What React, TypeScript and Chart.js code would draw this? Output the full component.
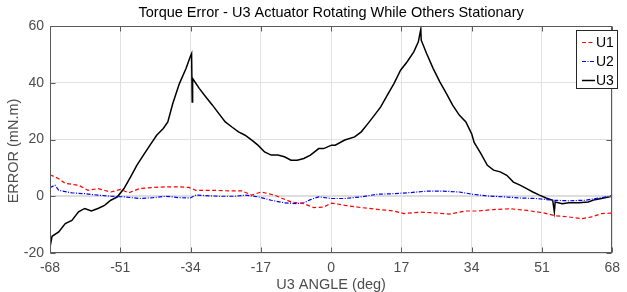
import React, { useEffect, useRef } from "react";
import { Chart, registerables } from "chart.js";

Chart.register(...registerables);

const TITLE = "Torque Error - U3 Actuator Rotating While Others Stationary";
const X_LABEL = "U3 ANGLE (deg)";
const Y_LABEL = "ERROR (mN.m)";
const X_TICKS = [-68, -51, -34, -17, 0, 17, 34, 51, 68];
const Y_TICKS = [-20, 0, 20, 40, 60];
const SERIES_NAMES = ["U1", "U2", "U3"];

const u1Angle = [-68, -65.9, -64.3, -61.1, -58.8, -56.4, -53.3, -50.9, -49.0, -46.3, -43.1, -40.0, -36.7, -34.4, -32.7, -28.7, -24.8, -21.6, -19.2, -16.9, -13.7, -9.7, -6.6, -4.2, -1.8, 0.1, 3.3, 7.3, 11.2, 15.2, 17.6, 21.5, 25.5, 28.6, 32.6, 35.4, 39.3, 43.3, 47.3, 51.2, 54.4, 57.5, 60.7, 63.0, 65.4, 68];
const u1Error = [7.6, 6.2, 4.5, 3.9, 2.1, 2.7, 1.5, 2.4, 1.2, 2.7, 3.1, 3.3, 3.3, 3.1, 2.1, 2.1, 1.9, 1.9, 0.4, 1.5, 0.4, -2.0, -2.6, -4.0, -3.8, -2.4, -3.2, -4.0, -4.6, -5.2, -6.1, -5.6, -5.9, -6.3, -5.2, -5.2, -4.7, -4.4, -5.0, -5.8, -6.9, -7.3, -7.9, -7.3, -6.1, -5.9];

const u2Angle = [-68, -66.8, -65.9, -62.7, -59.6, -56.4, -53.3, -50.1, -46.3, -43.1, -40.0, -36.7, -34.1, -32.7, -27.2, -23.2, -20.8, -17.7, -14.5, -11.3, -8.2, -6.6, -5.0, -3.0, 0.0, 3.3, 7.3, 11.2, 15.2, 19.2, 23.1, 27.1, 31.0, 34.2, 37.8, 41.7, 45.7, 49.6, 53.6, 57.5, 61.5, 65.4, 68];
const u2Error = [3.0, 3.9, 2.1, 1.2, 0.9, 0.4, 0, -0.2, -0.8, -0.5, 0, -0.5, -0.6, 0.4, 0, 0, 0.4, -0.2, -1.4, -2.3, -2.6, -2.3, -1.2, -0.2, -0.8, -0.8, -0.2, 0.7, 0.9, 1.3, 1.8, 1.8, 1.5, 0.7, 0.1, -0.2, -0.6, -0.8, -1.4, -1.6, -1.4, -0.5, 0.2];

const u3Angle = [-68, -67.5, -65.9, -64.3, -62.7, -61.1, -59.6, -58.0, -56.4, -54.8, -53.3, -51.7, -50.1, -48.5, -47.0, -45.4, -43.8, -42.2, -40.6, -39.5, -38.3, -36.7, -35.1, -34.1, -33.75, -33.6, -33.5, -31.9, -30.3, -28.7, -27.2, -25.6, -24.0, -22.4, -20.8, -19.2, -17.7, -16.1, -14.5, -12.9, -11.3, -9.7, -8.2, -6.6, -5.0, -3.0, -1.8, 0.1, 1.0, 3.3, 5.7, 7.3, 8.9, 10.5, 12.0, 13.6, 15.2, 16.8, 18.4, 20.0, 21.1, 21.7, 21.8, 23.1, 24.7, 26.3, 27.9, 29.4, 31.0, 32.6, 34.0, 34.6, 36.2, 37.8, 39.3, 40.9, 42.5, 44.1, 45.7, 47.3, 48.8, 50.4, 52.0, 53.6, 54.0, 54.2, 55.9, 57.5, 59.9, 62.2, 63.8, 65.4, 67.4, 68];
const u3Error = [-17.9, -14.1, -12.6, -9.6, -8.5, -5.5, -4.3, -5.2, -4.3, -3.2, -1.4, -0.2, 2.7, 6.8, 10.9, 14.5, 18.0, 21.5, 23.9, 26.2, 32.7, 39.7, 45.0, 49.1, 50.3, 33.2, 41.5, 38.0, 35.0, 32.1, 29.2, 26.2, 24.4, 22.7, 21.5, 19.8, 18.0, 15.6, 14.5, 14.5, 13.9, 12.7, 12.7, 13.3, 14.5, 16.8, 16.8, 18.0, 18.0, 19.8, 20.9, 22.7, 25.6, 28.6, 31.5, 35.6, 39.7, 44.4, 47.4, 50.9, 54.4, 58.9, 55.0, 50.3, 45.0, 40.3, 36.2, 32.1, 28.6, 26.2, 22.0, 19.0, 15.1, 10.9, 9.2, 8.6, 7.4, 5.0, 3.9, 2.7, 1.5, 0.4, -0.6, -1.4, -5.5, -2.0, -2.6, -2.3, -2.3, -2.0, -1.2, -0.8, -0.2, 0.2];

const FONT = '"Liberation Sans", Arial, sans-serif';
const GRAY = "#4d4d4d";

const toPoints = (xs: number[], ys: number[]) => xs.map((x, i) => ({ x, y: ys[i] }));

const decor = {
  id: "decor",
  afterDraw(chart: any) {
    const { ctx, chartArea: a, scales } = chart;
    const xs = scales.x;
    const ys = scales.y;
    ctx.save();
    // frame
    ctx.strokeStyle = "#5a5a5a";
    ctx.lineWidth = 1;
    const l = Math.round(a.left) + 0.5;
    const t = Math.round(a.top) + 0.5;
    const r = Math.round(a.right) - 0.5;
    const b = Math.round(a.bottom) - 0.5;
    ctx.strokeRect(l, t, r - l, b - t);
    // inward ticks
    const L = 5;
    ctx.beginPath();
    X_TICKS.forEach((v) => {
      const p = Math.round(xs.getPixelForValue(v)) + 0.5;
      ctx.moveTo(p, b);
      ctx.lineTo(p, b - L);
      ctx.moveTo(p, t);
      ctx.lineTo(p, t + L);
    });
    Y_TICKS.forEach((v) => {
      const p = Math.round(ys.getPixelForValue(v)) + 0.5;
      ctx.moveTo(l, p);
      ctx.lineTo(l + L, p);
      ctx.moveTo(r, p);
      ctx.lineTo(r - L, p);
    });
    ctx.stroke();
    // title
    ctx.fillStyle = "#000";
    ctx.font = `14.5px ${FONT}`;
    ctx.textAlign = "center";
    ctx.textBaseline = "middle";
    ctx.fillText(TITLE, (a.left + a.right) / 2, 13);
    // y axis title
    ctx.save();
    ctx.translate(14, 151);
    ctx.rotate(-Math.PI / 2);
    ctx.fillStyle = GRAY;
    ctx.font = `14.5px ${FONT}`;
    ctx.textAlign = "center";
    ctx.textBaseline = "middle";
    ctx.fillText(Y_LABEL, 0, 0);
    ctx.restore();
    // legend
    const bx = 576.5, by = 30.5, bw = 41, bh = 58;
    ctx.fillStyle = "#fff";
    ctx.fillRect(bx, by, bw, bh);
    ctx.strokeStyle = "#262626";
    ctx.lineWidth = 1;
    ctx.strokeRect(bx, by, bw, bh);
    const styles = [
      { color: "#ff0000", dash: [4, 2.5] },
      { color: "#0000ff", dash: [4, 1.5, 1, 1.5] },
      { color: "#000000", dash: [] as number[] },
    ];
    SERIES_NAMES.forEach((name, i) => {
      const cy = 42.5 + i * 19;
      ctx.strokeStyle = styles[i].color;
      ctx.setLineDash(styles[i].dash);
      ctx.lineWidth = i === 2 ? 1.5 : 1.2;
      ctx.beginPath();
      ctx.moveTo(582, cy);
      ctx.lineTo(595, cy);
      ctx.stroke();
      ctx.setLineDash([]);
      ctx.fillStyle = "#000";
      ctx.font = `14px ${FONT}`;
      ctx.textAlign = "left";
      ctx.textBaseline = "middle";
      ctx.fillText(name, 596, cy + 1);
    });
    ctx.restore();
  },
};

export default function App() {
  const ref = useRef<HTMLCanvasElement | null>(null);
  useEffect(() => {
    document.body.style.margin = "0";
    const canvas = ref.current;
    if (!canvas) return;
    const chart = new Chart(canvas, {
      type: "line",
      data: {
        datasets: [
          {
            label: SERIES_NAMES[0],
            data: toPoints(u1Angle, u1Error),
            borderColor: "#ff0000",
            borderWidth: 1.2,
            borderDash: [4, 2.5],
            pointRadius: 0,
            fill: false,
            tension: 0,
          },
          {
            label: SERIES_NAMES[1],
            data: toPoints(u2Angle, u2Error),
            borderColor: "#0000ff",
            borderWidth: 1.2,
            borderDash: [4, 1.5, 1, 1.5],
            pointRadius: 0,
            fill: false,
            tension: 0,
          },
          {
            label: SERIES_NAMES[2],
            data: toPoints(u3Angle, u3Error),
            borderColor: "#000000",
            borderWidth: 1.5,
            pointRadius: 0,
            fill: false,
            tension: 0,
          },
        ],
      },
      options: {
        responsive: false,
        animation: false,
        devicePixelRatio: 1,
        layout: { padding: { left: 0, right: 5, top: 26, bottom: 0 } },
        plugins: {
          legend: { display: false },
          title: { display: false },
          tooltip: { enabled: false },
        },
        scales: {
          x: {
            type: "linear",
            min: -68,
            max: 68,
            afterBuildTicks: (s: any) => {
              s.ticks = X_TICKS.map((v) => ({ value: v }));
            },
            afterFit: (s: any) => {
              s.height = 39;
            },
            grid: {
              color: "#e2e2e2",
              lineWidth: 1,
              drawTicks: false,
            },
            border: { display: false },
            ticks: {
              autoSkip: false,
              maxRotation: 0,
              padding: 7,
              color: GRAY,
              font: { family: FONT, size: 14 },
            },
            title: {
              display: true,
              text: X_LABEL,
              color: GRAY,
              font: { family: FONT, size: 14.5, lineHeight: 1 },
              padding: { top: 0, bottom: 0 },
            },
          },
          y: {
            type: "linear",
            min: -20,
            max: 60,
            afterBuildTicks: (s: any) => {
              s.ticks = Y_TICKS.map((v) => ({ value: v }));
            },
            afterFit: (s: any) => {
              s.width = 50;
            },
            grid: {
              color: (c: any) => (c.tick && c.tick.value === 0 ? "#dddddd" : "#e2e2e2"),
              lineWidth: (c: any) => (c.tick && c.tick.value === 0 ? 2 : 1),
              drawTicks: false,
            },
            border: { display: false },
            ticks: {
              padding: 6,
              color: GRAY,
              font: { family: FONT, size: 14 },
            },
            title: { display: false },
          },
        },
      },
      plugins: [decor],
    } as any);
    return () => chart.destroy();
  }, []);
  return (
    <div style={{ position: "absolute", left: 0, top: 0, width: 627, height: 292 }}>
      <canvas ref={ref} width={627} height={292} style={{ width: 627, height: 292 }} />
    </div>
  );
}
